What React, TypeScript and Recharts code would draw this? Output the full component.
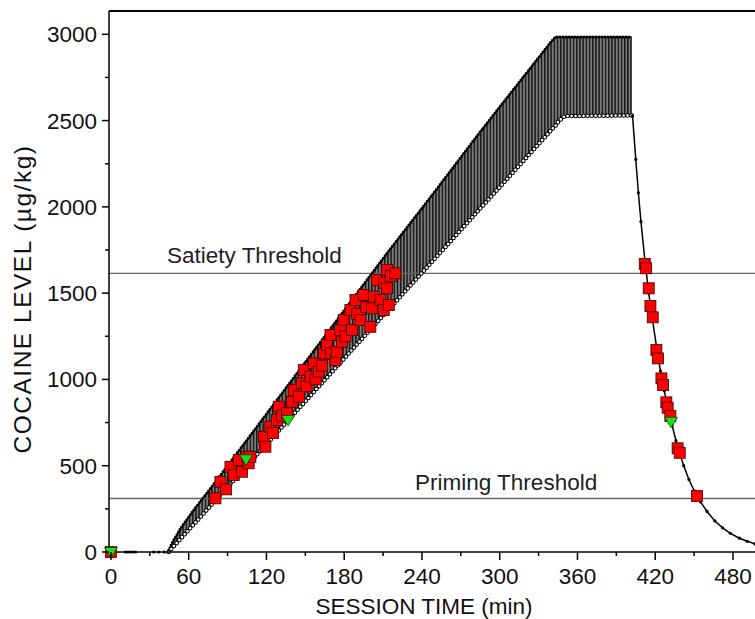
import { ComposedChart, XAxis, YAxis, Line, Area, Scatter, ReferenceLine } from 'recharts'

const FONT = '"Liberation Sans", Arial, Helvetica, sans-serif'

// axes: session time (min) and cocaine level (µg/kg)
const xTicks = [0, 30, 60, 90, 120, 150, 180, 210, 240, 270, 300, 330, 360, 390, 420, 450, 480]
const yTicks = [0, 250, 500, 750, 1000, 1250, 1500, 1750, 2000, 2250, 2500, 2750, 3000]
const X_MAX = 497
const Y_MAX = 3135

const SATIETY = 1615
const PRIMING = 310

// envelope of the infusion sawtooth (lower = before infusion, upper = right after)
const bandTime = [44.5, 47, 54, 64, 77, 120, 160, 213, 249, 282, 298, 340, 343, 345, 350, 402]
const bandLow = [0, 21, 79, 161, 269, 625, 956, 1395, 1692, 1966, 2098, 2447, 2470, 2492, 2526, 2530]
const bandHigh = [8, 50, 140, 245, 370, 800, 1200, 1731, 2080, 2406, 2560, 2960, 2985, 2985, 2985, 2985]

// level sitting at zero before the loading phase
const idleTime = [11, 13, 15, 17, 19, 33, 37, 41]

// elimination after the session's last infusion
const decayTime = [402.5, 405, 407, 409, 412, 415, 418, 421, 424, 427, 430, 433, 436, 439, 442, 446, 450, 455, 460, 466, 472, 478, 485, 491, 497]
const decayLevel = [2528, 2275, 2082, 1914, 1692, 1500, 1340, 1190, 1050, 935, 820, 735, 645, 570, 500, 420, 355, 290, 235, 180, 140, 108, 80, 62, 47]

// lever responses (red squares)
const respTime = [
  0, 80.6, 84.5, 88.9, 92.2, 94.8, 98.6, 101.2, 105, 106.3, 107.6, 118, 119.2, 123, 125, 128.2, 129.5, 132, 136,
  139.8, 141, 145, 147.5, 148.8, 151, 154, 156.5, 158, 160.3, 163, 164.2, 166.8, 169.4, 170, 173.2, 174.5, 177,
  178.4, 179.6, 181, 184.8, 186.1, 188.7, 190, 192.5, 195, 197, 200.2, 201.5, 203, 205.4, 208, 210.5, 211, 213.1,
  213.1, 214.4, 216, 219.5,
  411.9, 413, 415, 416.3, 418.1, 420.9, 422.2, 424.8, 426.1, 428.6, 429.6, 431.7, 437.3, 438.9, 452.3,
]
const respLevel = [
  0, 311, 407, 363, 494, 446, 533, 465, 552, 514, 552, 668, 610, 726, 690, 765, 842, 790, 804,
  871, 939, 900, 977, 1054, 960, 1016, 1093, 1000, 1045, 1080, 1151, 1199, 1257, 1150, 1112, 1160, 1286,
  1218, 1344, 1250, 1402, 1286, 1460, 1380, 1344, 1489, 1420, 1305, 1412, 1480, 1576, 1460, 1402, 1560, 1634,
  1528, 1431, 1600, 1615,
  1669, 1644, 1528, 1425, 1360, 1170, 1122, 1006, 968, 867, 836, 788, 601, 575, 324,
]

// priming events (green triangles)
const primeTime = [0, 104.3, 136.7, 432.2]
const primeLevel = [0, 537, 765, 755]

const bandRows = bandTime.map((t, i) => ({ t, range: [bandLow[i], bandHigh[i]] }))
const upperRows = bandTime.map((t, i) => ({ t, v: bandHigh[i] }))
const lowerRows = bandTime.map((t, i) => ({ t, v: bandLow[i] }))
const idleRows = idleTime.map((t) => ({ t, v: 0 }))
const decayRows = decayTime.map((t, i) => ({ t, v: decayLevel[i] }))
const respRows = respTime.map((t, i) => ({ t, v: respLevel[i] }))
const primeRows = primeTime.map((t, i) => ({ t, v: primeLevel[i] }))

function XTick({ x, y, payload }: any) {
  const major = payload.value % 60 === 0
  return (
    <g>
      <line x1={x} x2={x} y1={y} y2={y + (major ? 8 : 4)} stroke="#000" strokeWidth={1.5} />
      {major && (
        <text x={x} y={y + 31.5} textAnchor="middle" fontSize={22.5} fontFamily={FONT} fill="#111">
          {payload.value}
        </text>
      )}
    </g>
  )
}

function YTick({ x, y, payload }: any) {
  const major = payload.value % 500 === 0
  return (
    <g>
      <line x1={x - (major ? 7 : 4)} x2={x} y1={y} y2={y} stroke="#000" strokeWidth={1.5} />
      {major && (
        <text x={x - 12} y={y + 8} textAnchor="end" fontSize={22.5} fontFamily={FONT} fill="#111">
          {payload.value}
        </text>
      )}
    </g>
  )
}

const thresholdLabel = (text: string, dx: number, dy: number) => (props: any) => {
  const vb = props.viewBox || { x: 0, y: 0 }
  return (
    <text x={vb.x + dx} y={vb.y + dy} fontSize={22.5} fontFamily={FONT} fill="#222">
      {text}
    </text>
  )
}

const square = (p: any) => (
  <rect x={p.cx - 5.5} y={p.cy - 5.5} width={11} height={11} fill="#f00" stroke="#3a0000" strokeWidth={0.8} />
)

const triangle = (p: any) => (
  <path
    d={`M${p.cx - 6.5},${p.cy - 4.5} L${p.cx + 6.5},${p.cy - 4.5} L${p.cx},${p.cy + 6} Z`}
    fill="#19e019"
    stroke="#063006"
    strokeWidth={0.7}
  />
)

export default function App() {
  return (
    <div style={{ position: 'absolute', left: 0, top: 0, background: '#fff' }}>
      <ComposedChart width={755} height={619} margin={{ top: 11, right: 0, bottom: 0, left: 0 }}>
        <defs>
          <pattern id="hatch" patternUnits="userSpaceOnUse" width={3.2} height={10}>
            <rect x={0} y={0} width={3.2} height={10} fill="#7a7a7a" />
            <rect x={0} y={0} width={1.4} height={10} fill="#141414" />
          </pattern>
        </defs>
        <XAxis
          dataKey="t"
          type="number"
          domain={[-1.5, X_MAX]}
          ticks={xTicks}
          interval={0}
          tick={<XTick />}
          tickLine={false}
          tickSize={0}
          tickMargin={0}
          height={67}
          axisLine={{ stroke: '#000', strokeWidth: 1.5 }}
          label={(props: any) => {
            const vb = props.viewBox || { x: 0, y: 0 }
            return (
              <text x={vb.x + 315} y={vb.y + 62} textAnchor="middle" fontSize={22.5} fontFamily={FONT} fill="#111">
                SESSION TIME (min)
              </text>
            )
          }}
        />
        <YAxis
          type="number"
          domain={[0, Y_MAX]}
          ticks={yTicks}
          interval={0}
          tick={<YTick />}
          tickLine={false}
          tickSize={0}
          tickMargin={0}
          width={109}
          axisLine={{ stroke: '#000', strokeWidth: 1.5 }}
          label={() => (
            <text
              x={31}
              y={299}
              transform="rotate(-90, 31, 299)"
              textAnchor="middle"
              fontSize={24.5}
              letterSpacing={1.5}
              fontFamily={FONT}
              fill="#111"
            >
              COCAINE LEVEL (µg/kg)
            </text>
          )}
        />
        <ReferenceLine y={Y_MAX} stroke="#000" strokeWidth={2} ifOverflow="visible" />
        <ReferenceLine y={SATIETY} stroke="#666" strokeWidth={1.3} label={thresholdLabel('Satiety Threshold', 58, -10)} />
        <ReferenceLine y={PRIMING} stroke="#666" strokeWidth={1.3} label={thresholdLabel('Priming Threshold', 306, -9)} />

        <Area data={bandRows} dataKey="range" type="linear" fill="url(#hatch)" fillOpacity={1} stroke="none" isAnimationActive={false} />
        <Line data={upperRows} dataKey="v" type="linear" stroke="#000" strokeWidth={1} dot={false} activeDot={false} isAnimationActive={false} />
        <Line data={upperRows} dataKey="v" type="linear" stroke="#000" strokeWidth={3} strokeDasharray="0 3" strokeLinecap="round" dot={false} activeDot={false} isAnimationActive={false} />
        <Line data={lowerRows} dataKey="v" type="linear" stroke="#000" strokeWidth={4.6} strokeDasharray="0 4" strokeLinecap="round" dot={false} activeDot={false} isAnimationActive={false} />
        <Line data={lowerRows} dataKey="v" type="linear" stroke="#fff" strokeWidth={2.6} strokeDasharray="0 4" strokeLinecap="round" dot={false} activeDot={false} isAnimationActive={false} />
        <Line data={idleRows} dataKey="v" type="linear" stroke="none" dot={{ r: 1.6, fill: '#000', stroke: 'none' }} activeDot={false} isAnimationActive={false} />
        <Line data={decayRows} dataKey="v" type="linear" stroke="#000" strokeWidth={1.5} dot={{ r: 1.6, fill: '#000', stroke: 'none' }} activeDot={false} isAnimationActive={false} />

        <Scatter data={respRows} dataKey="v" shape={square} isAnimationActive={false} />
        <Scatter data={primeRows} dataKey="v" shape={triangle} isAnimationActive={false} />
      </ComposedChart>
    </div>
  )
}
